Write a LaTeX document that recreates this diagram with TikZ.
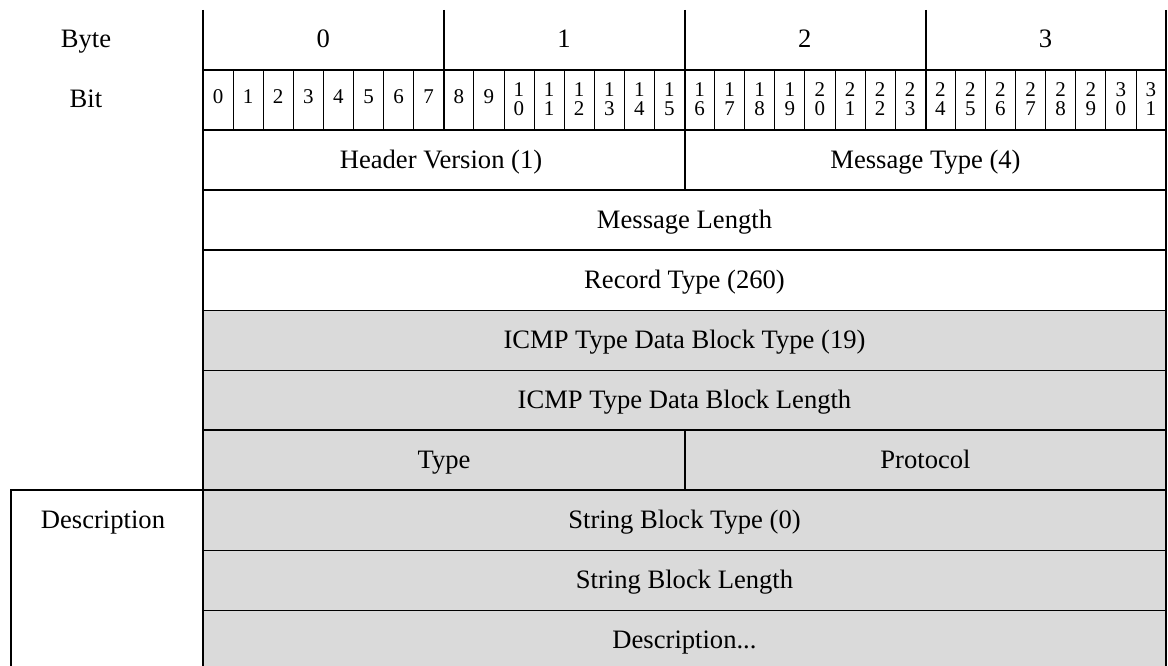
\documentclass[tikz,border=0pt]{standalone}
\usepackage{fontspec}
\setmainfont{Liberation Serif}
\usetikzlibrary{positioning}
\definecolor{blockgray}{RGB}{218,218,218}
\newcommand{\fieldfont}{\fontsize{26.6}{28}\selectfont}
\newcommand{\bitfont}{\fontsize{21}{19.3}\selectfont}
\tikzset{
	field/.style={font=\fieldfont,inner sep=0pt,anchor=base},
	bitno/.style={font=\bitfont,align=center,inner sep=0pt,anchor=base},
	heavy/.style={line width=1.4pt},
	light/.style={line width=0.8pt},
	block/.style={fill=blockgray}
}

\begin{document}
\begin{tikzpicture}[x=1pt,y=-1pt]
	\useasboundingbox (0,0) rectangle (1168,666);
	\fill[block] (203,310) rectangle (1166,670);
	% row titles
	\node[field] (byte) at (86,48) {Byte};
	\node[field] (bit) at (86,108) {Bit};
	\node[field] (desc) at (103,528) {Description};
	% byte and bit numbers
	\foreach \b in {0,...,3}
		\node[field] (byte\b) at ({203+240.75*(\b+0.5)},48) {\b};
	\foreach \i in {0,...,9}
		\node[bitno] (bit\i) at ({203+30.09375*(\i+0.5)},103.5) {\i};
	\foreach \i in {10,...,31}{
		\pgfmathtruncatemacro\tens{\i/10}
		\pgfmathtruncatemacro\ones{mod(\i,10)}
		\node[bitno] (bit\i) at ({203+30.09375*(\i+0.5)},116) {\tens\\\ones};
	}
	% fields
	\node[field] (hdrver) at (441,168) {Header Version (1)};
	\node[field] (msgtype) at (925.5,168) {Message Type (4)};
	\node[field] (msglen) at (684.5,228) {Message Length};
	\node[field] (rectype) at (684.5,288) {Record Type (260)};
	\node[field] (icmptype) at (684.5,348) {ICMP Type Data Block Type (19)};
	\node[field] (icmplen) at (684.5,408) {ICMP Type Data Block Length};
	\node[field] (type) at (444,468) {Type};
	\node[field] (proto) at (925.5,468) {Protocol};
	\node[field] (strtype) at (684.5,528) {String Block Type (0)};
	\node[field] (strlen) at (684.5,588) {String Block Length};
	\node[field] (descval) at (684.5,648) {Description...};
	% grid
	\foreach \i in {1,...,31}
		\draw[light] ({203+30.09375*\i},70) -- ++(0,60);
	\foreach \y in {310,370,550,610}
		\draw[light] (203,\y) -- (1166,\y);
	\draw[heavy] (203,10) -- (203,670);
	\draw[heavy] (1166,10) -- (1166,670);
	\foreach \x in {444,926}
		\draw[heavy] (\x,10) -- (\x,130);
	\draw[heavy] (685,10) -- (685,190);
	\draw[heavy] (685,430) -- (685,490);
	\foreach \y in {70,130,190,250,430}
		\draw[heavy] (203,\y) -- (1166,\y);
	\draw[heavy] (11,670) -- (11,490) -- (1166,490);
\end{tikzpicture}
\end{document}
